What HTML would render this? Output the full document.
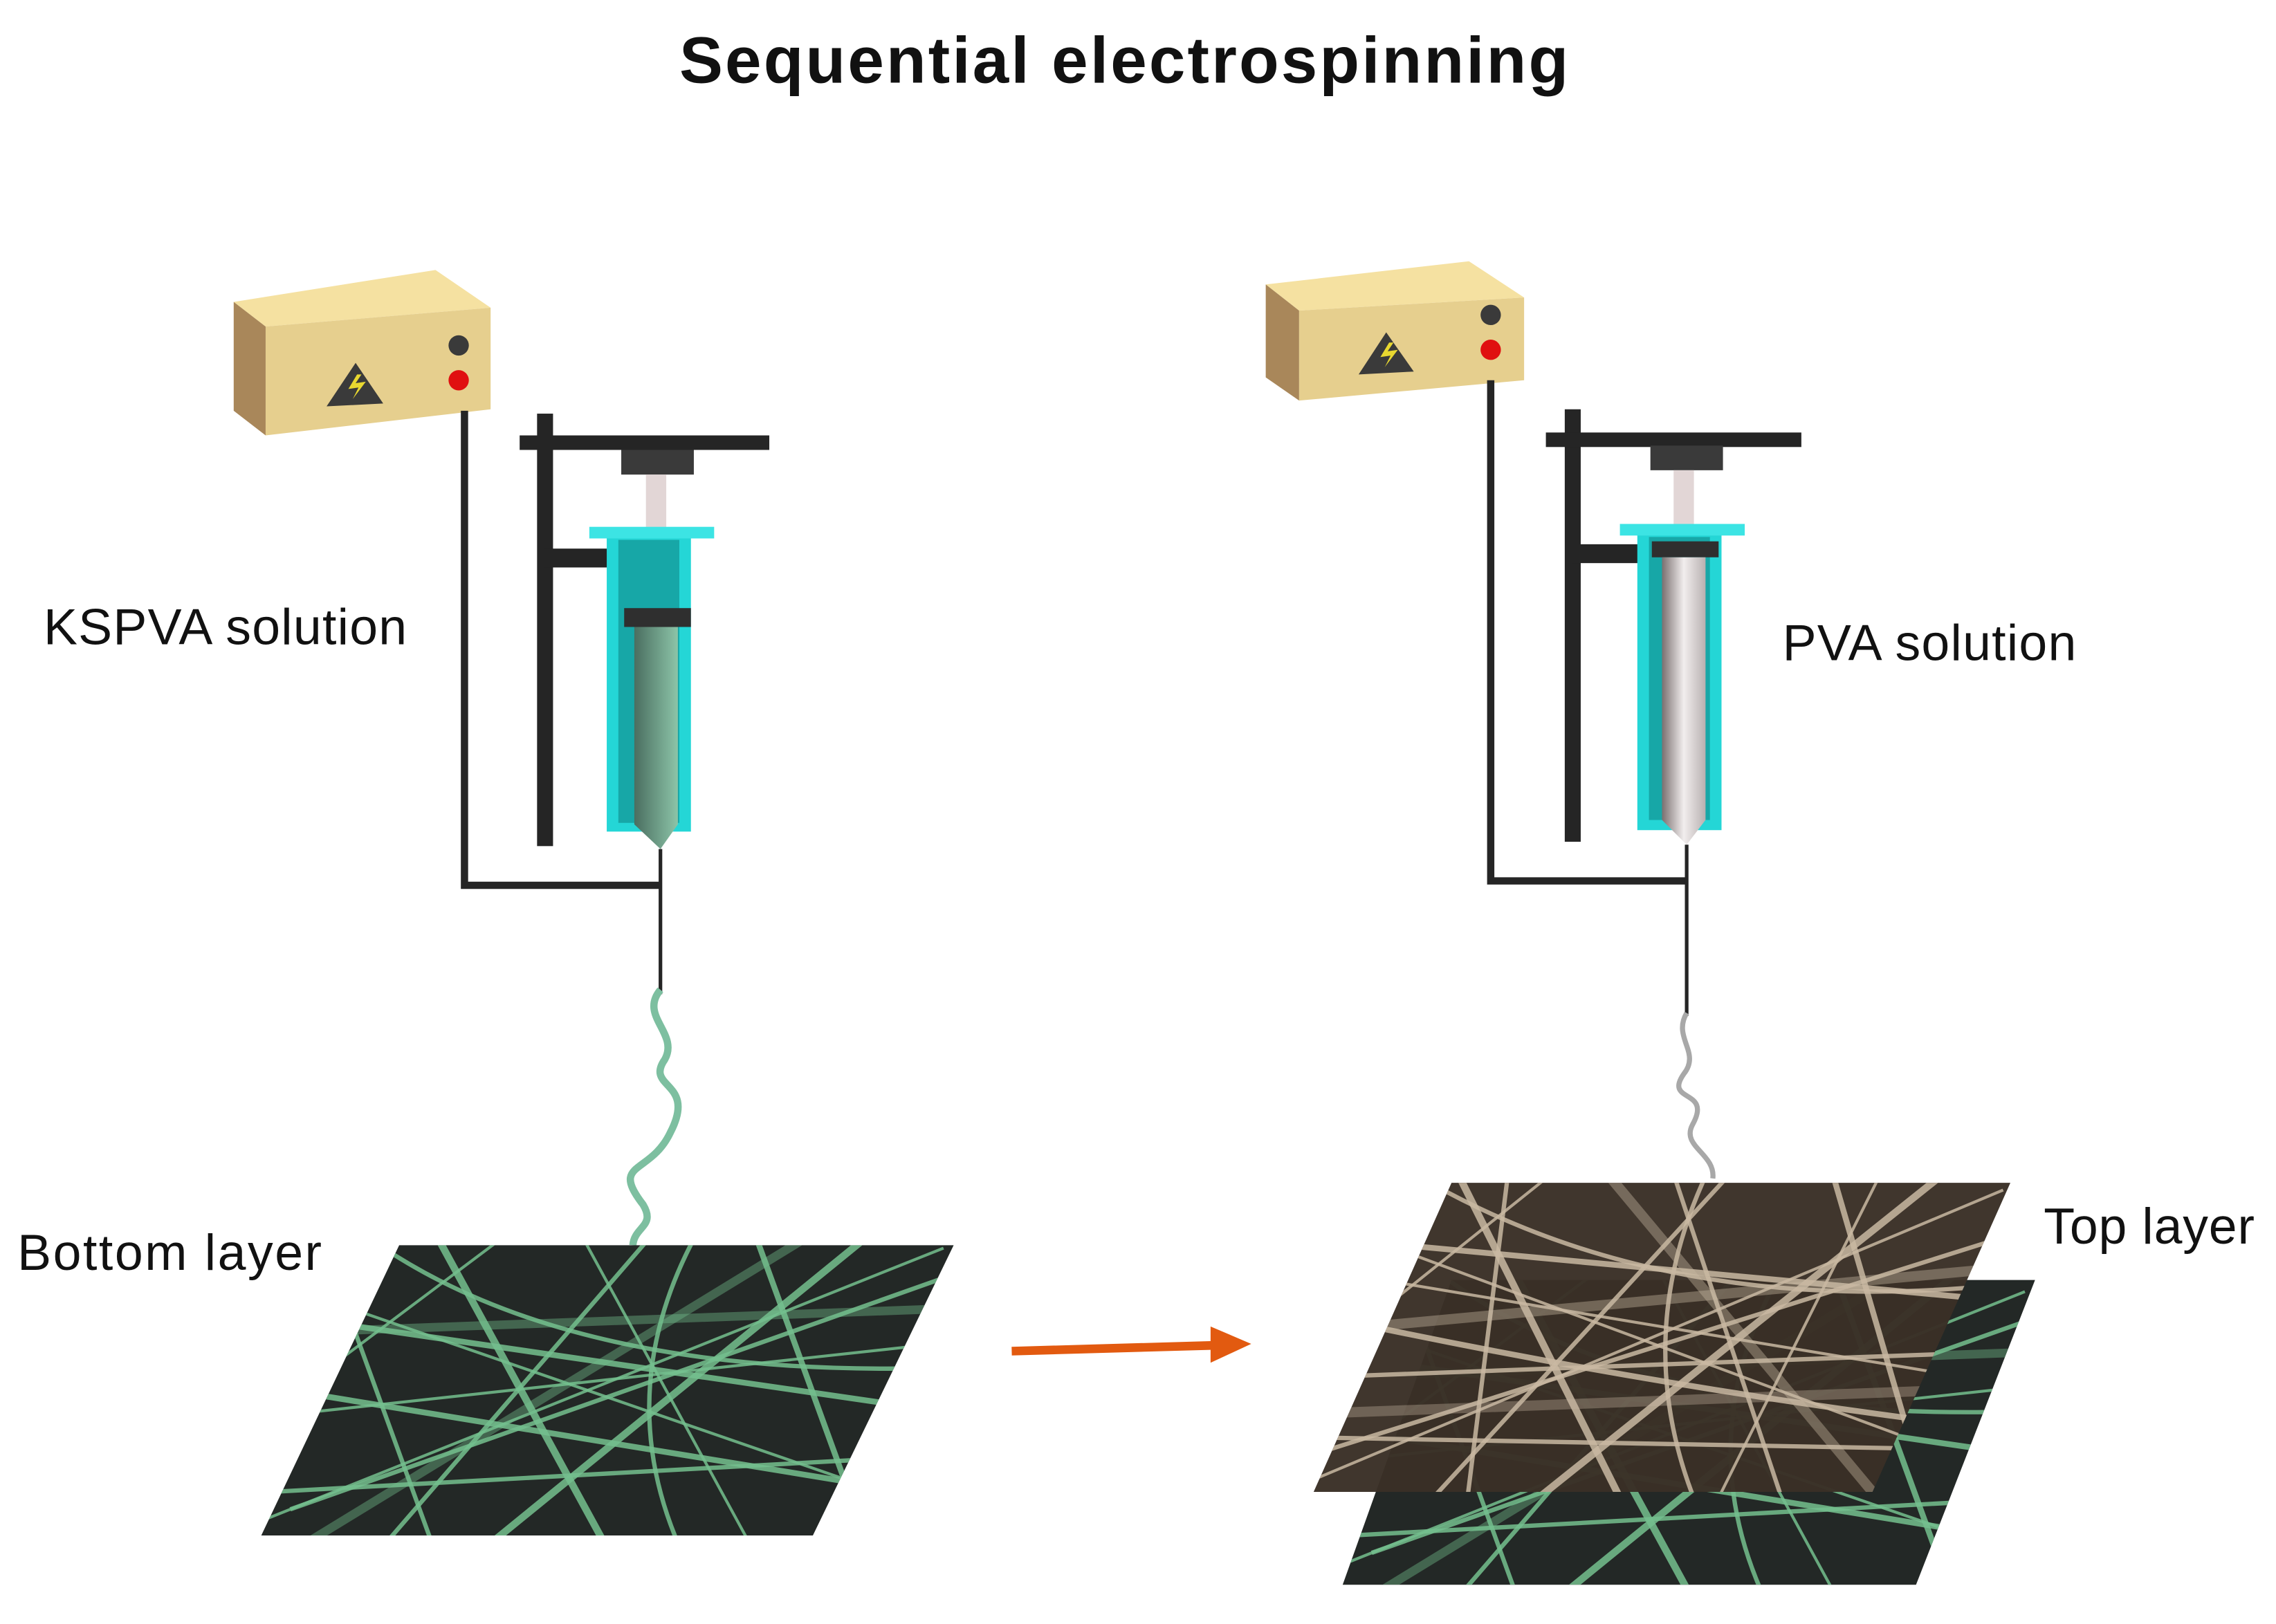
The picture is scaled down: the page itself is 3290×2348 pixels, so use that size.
<!DOCTYPE html>
<html><head><meta charset="utf-8"><style>
html,body{margin:0;padding:0;background:#fff;}
svg{display:block;}
text{font-family:"Liberation Sans",sans-serif;}
</style></head><body>
<svg width="3290" height="2348" viewBox="0 0 1568 1119" xmlns="http://www.w3.org/2000/svg">
<defs>
<clipPath id="cl"><polygon points="275,858 657,858 560,1058 180,1058"/></clipPath>
<clipPath id="cb"><polygon points="1000,882 1402,882 1320,1092 925,1092"/></clipPath>
<clipPath id="ct"><polygon points="1000,815 1385,815 1290,1028 905,1028"/></clipPath>
<linearGradient id="liqG" x1="0" x2="1"><stop offset="0" stop-color="#4a6e60"/><stop offset="1" stop-color="#8cc4a8"/></linearGradient>
<linearGradient id="liqW" x1="0" x2="1"><stop offset="0" stop-color="#7a7070"/><stop offset="0.5" stop-color="#f2eeee"/><stop offset="1" stop-color="#b8b0b0"/></linearGradient>
<g id="greenLines" fill="none" stroke="#74c08e" stroke-opacity="0.85">
<path d="M150,900 L700,980" stroke-width="4"/><path d="M200,1040 L680,870" stroke-width="3"/>
<path d="M300,850 L420,1070" stroke-width="5"/><path d="M450,850 L260,1070" stroke-width="3"/>
<path d="M150,980 L700,920" stroke-width="2"/><path d="M520,850 L600,1070" stroke-width="4"/>
<path d="M150,1030 L700,1000" stroke-width="3"/><path d="M350,850 L150,1000" stroke-width="2"/>
<path d="M600,850 L330,1070" stroke-width="5"/><path d="M150,870 L700,1060" stroke-width="2"/>
<path d="M400,850 L520,1070" stroke-width="2"/><path d="M250,850 Q400,960 700,940" stroke-width="3"/>
<path d="M150,950 Q450,1000 700,1040" stroke-width="4"/><path d="M480,850 Q420,960 470,1070" stroke-width="3"/>
<path d="M150,1060 L650,860" stroke-width="2"/><path d="M220,850 L300,1070" stroke-width="3"/>
<path d="M150,920 L700,900" stroke-width="6" stroke-opacity="0.4"/><path d="M560,850 L200,1070" stroke-width="6" stroke-opacity="0.4"/>
</g>
<g id="brownLines" fill="none" stroke="#c9b8a2" stroke-opacity="0.85">
<path d="M880,850 L1420,900" stroke-width="4"/><path d="M880,1010 L1420,840" stroke-width="3"/>
<path d="M1000,800 L1120,1040" stroke-width="5"/><path d="M1200,800 L980,1040" stroke-width="3"/>
<path d="M880,950 L1420,930" stroke-width="3"/><path d="M1260,800 L1330,1040" stroke-width="4"/>
<path d="M880,990 L1420,1000" stroke-width="3"/><path d="M1080,800 L880,960" stroke-width="2"/>
<path d="M1350,800 L1050,1040" stroke-width="5"/><path d="M880,830 L1420,1030" stroke-width="2"/>
<path d="M1150,800 L1230,1040" stroke-width="3"/><path d="M960,800 Q1150,920 1420,880" stroke-width="3"/>
<path d="M880,900 Q1150,960 1420,990" stroke-width="4"/><path d="M1180,800 Q1120,920 1170,1040" stroke-width="3"/>
<path d="M880,1030 L1380,820" stroke-width="2"/><path d="M1040,800 L1010,1040" stroke-width="3"/>
<path d="M880,870 L1420,960" stroke-width="2"/><path d="M1300,800 L1180,1040" stroke-width="2"/>
<path d="M880,920 L1420,870" stroke-width="7" stroke-opacity="0.4"/><path d="M1100,800 L1300,1040" stroke-width="7" stroke-opacity="0.4"/>
<path d="M880,975 L1420,955" stroke-width="7" stroke-opacity="0.35"/>
</g>
</defs>

<text x="775" y="57" text-anchor="middle" font-size="45" font-weight="bold" fill="#111" letter-spacing="1.5">Sequential electrospinning</text>

<!-- LEFT SETUP -->
<g>
<polygon points="161,208 300,186 338,212 183,225" fill="#f5e1a1"/>
<polygon points="161,208 183,225 183,300 161,283" fill="#a9875a"/>
<polygon points="183,225 338,212 338,282 183,300" fill="#e6cf8e"/>
<polygon points="225,280 245,250 264,278" fill="#3a3a3a"/>
<path d="M246,258 L240,268 L247,267 L243,275 L252,263 L245,264 L249,258Z" fill="#e8d830"/>
<circle cx="316" cy="238" r="7" fill="#3a3a3a"/><circle cx="316" cy="262" r="7" fill="#e01010"/>
<polyline points="320,283 320,610 455,610" fill="none" stroke="#252525" stroke-width="5"/>
<rect x="370" y="285" width="11" height="298" fill="#252525"/>
<rect x="358" y="300" width="172" height="10" fill="#252525"/>
<rect x="375" y="378" width="46" height="13" fill="#252525"/>
<rect x="428" y="310" width="50" height="17" fill="#3a3a3a"/>
<rect x="445" y="327" width="14" height="95" fill="#e2d6d6"/>
<rect x="418" y="368" width="58" height="205" fill="#24d6d6"/>
<rect x="406" y="363" width="86" height="8" fill="#3ce4e4"/>
<rect x="426" y="372" width="42" height="195" fill="#17a7a7"/>
<polygon points="437,430 467,430 467,568 455,585 437,568" fill="url(#liqG)"/>
<rect x="430" y="419" width="46" height="13" fill="#2f2f2f"/>
<line x1="455" y1="585" x2="455" y2="685" stroke="#252525" stroke-width="2.5"/>
<path d="M455,682 C440,700 468,712 458,730 C444,750 480,745 462,780 C448,810 420,800 443,830 C452,845 437,845 436,858" fill="none" stroke="#7dbfa0" stroke-width="5"/>
</g>

<text x="30" y="444" font-size="35" fill="#111" letter-spacing="0.6">KSPVA solution</text>
<text x="12" y="875" font-size="35" fill="#111" letter-spacing="1.2">Bottom layer</text>

<!-- left mesh -->
<polygon points="275,858 657,858 560,1058 180,1058" fill="#232826"/>
<g clip-path="url(#cl)"><use href="#greenLines"/></g>

<!-- arrow -->
<line x1="697" y1="931" x2="838" y2="927" stroke="#e25a10" stroke-width="6"/>
<polygon points="834,914 862,926 834,939" fill="#e25a10"/>

<!-- RIGHT SETUP -->
<g>
<polygon points="872,196 1012,180 1050,205 895,214" fill="#f5e1a1"/>
<polygon points="872,196 895,214 895,276 872,260" fill="#a9875a"/>
<polygon points="895,214 1050,205 1050,262 895,276" fill="#e6cf8e"/>
<polygon points="936,258 955,229 974,256" fill="#3a3a3a"/>
<path d="M957,236 L951,246 L958,245 L954,253 L963,241 L956,242 L960,236Z" fill="#e8d830"/>
<circle cx="1027" cy="217" r="7" fill="#3a3a3a"/><circle cx="1027" cy="241" r="7" fill="#e01010"/>
<polyline points="1027,262 1027,607 1162,607" fill="none" stroke="#252525" stroke-width="5"/>
<rect x="1078" y="282" width="11" height="298" fill="#252525"/>
<rect x="1065" y="298" width="176" height="10" fill="#252525"/>
<rect x="1083" y="375" width="46" height="13" fill="#252525"/>
<rect x="1137" y="307" width="50" height="17" fill="#3a3a3a"/>
<rect x="1153" y="324" width="14" height="40" fill="#e2d6d6"/>
<rect x="1128" y="366" width="58" height="206" fill="#24d6d6"/>
<rect x="1116" y="361" width="86" height="8" fill="#3ce4e4"/>
<rect x="1136" y="370" width="42" height="195" fill="#17a7a7"/>
<rect x="1138" y="373" width="46" height="11" fill="#2f2f2f"/>
<polygon points="1145,384 1175,384 1175,565 1162,582 1145,565" fill="url(#liqW)"/>
<line x1="1162" y1="582" x2="1162" y2="700" stroke="#252525" stroke-width="2.5"/>
<path d="M1162,698 C1152,715 1172,725 1160,740 C1146,760 1180,750 1166,775 C1158,790 1182,795 1180,812" fill="none" stroke="#a8a8a8" stroke-width="3.5"/>
</g>

<text x="1228" y="455" font-size="35" fill="#111" letter-spacing="0.6">PVA solution</text>
<text x="1408" y="857" font-size="35" fill="#111" letter-spacing="0.4">Top layer</text>

<!-- right meshes -->
<polygon points="1000,882 1402,882 1320,1092 925,1092" fill="#232826"/>
<g clip-path="url(#cb)"><use href="#greenLines" transform="translate(745,30)"/></g>
<polygon points="1000,815 1385,815 1290,1028 905,1028" fill="#3a3026" fill-opacity="0.97"/>
<g clip-path="url(#ct)"><use href="#brownLines"/></g>
</svg>
</body></html>
